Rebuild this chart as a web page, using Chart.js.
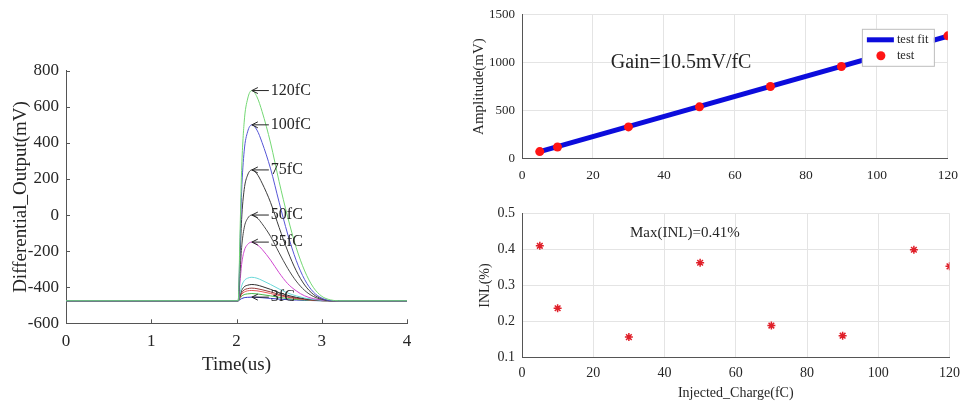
<!DOCTYPE html>
<html>
<head>
<meta charset="utf-8">
<script src="https://cdn.jsdelivr.net/npm/chart.js@4"></script>
<style>
  html, body { margin: 0; padding: 0; background: #fff; }
  body { width: 967px; height: 404px; position: relative; overflow: hidden; }
  canvas { position: absolute; }
  #pulse { left: 0; top: 0; }
  #gain { left: 460px; top: 0; }
  #inl { left: 460px; top: 195px; }
</style>
</head>
<body>
<canvas id="pulse" width="440" height="404"></canvas>
<canvas id="gain" width="507" height="195"></canvas>
<canvas id="inl" width="507" height="209"></canvas>
<script>
// shaper output, time axis in us, outputs in mV
var timeUs = [0, 2.02, 2.04, 2.06, 2.09, 2.13, 2.18, 2.24, 2.3, 2.4, 2.5, 2.6, 2.7, 2.8, 2.9, 3.0, 3.1, 3.2, 4.0];

var out120fC = [-475, -475, -125, 247, 515, 643, 690, 655, 574, 399, 185, -10, -180, -310, -400, -450, -470, -475, -475];
var out100fC = [-475, -475, -183, 129, 354, 461, 500, 471, 402, 256, 71, -105, -251, -358, -426, -460, -474, -475, -475];
var out75fC = [-475, -475, -258, -25, 141, 221, 250, 228, 177, 69, -69, -199, -308, -388, -439, -464, -475, -475, -475];
var out50fC = [-475, -475, -333, -181, -71, -19, 0, -14, -48, -119, -209, -295, -366, -418, -451, -468, -475, -475, -475];
var out35fC = [-475, -475, -378, -274, -199, -163, -150, -163, -190, -250, -320, -380, -420, -448, -463, -471, -475, -475, -475];
var out20fC = [-475, -475, -436, -394, -364, -350, -345, -350, -362, -385, -410, -432, -448, -460, -468, -473, -475, -475, -475];
var out15fC = [-475, -475, -448, -419, -398, -389, -385, -388, -396, -412, -430, -445, -456, -464, -470, -474, -475, -475, -475];
var out10fC = [-475, -475, -454, -432, -415, -408, -405, -408, -414, -426, -440, -452, -460, -467, -471, -474, -475, -475, -475];
var out8fC = [-475, -475, -458, -440, -427, -420, -418, -420, -425, -435, -446, -456, -463, -468, -472, -474, -475, -475, -475];
var out5fC = [-475, -475, -463, -450, -441, -437, -435, -437, -441, -448, -456, -463, -468, -471, -473, -475, -475, -475, -475];
var out3fC = [-475, -475, -469, -463, -458, -456, -455, -456, -458, -462, -466, -469, -471, -473, -474, -475, -475, -475, -475];

// amplitude and INL versus injected charge
var chargeFc = [5, 10, 30, 50, 70, 90, 110, 120];
var amplitudeMv = [70, 118, 328, 538, 750, 960, 1172, 1280];
var fitChargeFc = [5, 120];
var fitAmplitudeMv = [70, 1277.5];
var inlPercent = [0.41, 0.237, 0.157, 0.363, 0.189, 0.161, 0.399, 0.353];

Chart.defaults.font.family = '"Liberation Serif", "Times New Roman", serif';
Chart.defaults.color = '#262626';
Chart.defaults.animation = false;

function xy(xs, ys) {
  return xs.map(function (x, i) { return { x: x, y: ys[i] }; });
}

function plain(v) {
  return String(Math.round(v * 1000) / 1000);
}

function trace(name, values, color, tagged) {
  return {
    label: name,
    data: xy(timeUs, values),
    borderColor: color,
    borderWidth: 1,
    pointRadius: 0,
    cubicInterpolationMode: 'monotone',
    tag: tagged
  };
}

// arrows + charge labels at each tagged pulse peak
var pulseTags = {
  id: 'pulseTags',
  afterDatasetsDraw: function (chart) {
    var ctx = chart.ctx, sx = chart.scales.x, sy = chart.scales.y;
    ctx.save();
    ctx.strokeStyle = '#262626';
    ctx.fillStyle = '#262626';
    ctx.lineWidth = 1;
    ctx.font = '16px "Liberation Serif"';
    ctx.textBaseline = 'middle';
    chart.data.datasets.forEach(function (ds) {
      if (!ds.tag) return;
      var top = ds.data[0];
      ds.data.forEach(function (p) { if (p.y > top.y) top = p; });
      var px = sx.getPixelForValue(top.x), py = sy.getPixelForValue(top.y);
      ctx.beginPath();
      ctx.moveTo(px + 17, py);
      ctx.lineTo(px, py);
      ctx.moveTo(px + 6, py - 3);
      ctx.lineTo(px, py);
      ctx.lineTo(px + 6, py + 3);
      ctx.stroke();
      ctx.fillText(ds.label, px + 19, py);
    });
    ctx.restore();
  }
};

var inwardTicks = {
  id: 'inwardTicks',
  afterDraw: function (chart) {
    var ctx = chart.ctx, a = chart.chartArea, sx = chart.scales.x, sy = chart.scales.y;
    ctx.save();
    ctx.strokeStyle = '#555';
    ctx.lineWidth = 1;
    ctx.beginPath();
    sx.ticks.forEach(function (t) {
      var x = Math.round(sx.getPixelForValue(t.value)) + 0.5;
      ctx.moveTo(x, a.bottom);
      ctx.lineTo(x, a.bottom - 4);
    });
    sy.ticks.forEach(function (t) {
      var y = Math.round(sy.getPixelForValue(t.value)) + 0.5;
      ctx.moveTo(a.left, y);
      ctx.lineTo(a.left + 4, y);
    });
    ctx.stroke();
    ctx.restore();
  }
};

// free text placed in data coordinates
function noteText(id, text, x, y, size) {
  return {
    id: id,
    afterDatasetsDraw: function (chart) {
      var ctx = chart.ctx;
      ctx.save();
      ctx.fillStyle = '#262626';
      ctx.font = size + 'px "Liberation Serif"';
      ctx.textBaseline = 'middle';
      ctx.fillText(text, chart.scales.x.getPixelForValue(x), chart.scales.y.getPixelForValue(y));
      ctx.restore();
    }
  };
}

// opaque legend box inside the upper-right corner
var boxLegend = {
  id: 'boxLegend',
  afterDatasetsDraw: function (chart) {
    var ctx = chart.ctx, a = chart.chartArea;
    var dots = chart.data.datasets[0], fit = chart.data.datasets[1];
    var w = 72, h = 37, x = a.right - 14 - w, y = a.top + 14;
    ctx.save();
    ctx.fillStyle = '#fff';
    ctx.strokeStyle = '#bdbdbd';
    ctx.lineWidth = 1;
    ctx.fillRect(x, y, w, h);
    ctx.strokeRect(x + 0.5, y + 0.5, w, h);
    ctx.strokeStyle = fit.borderColor;
    ctx.lineWidth = fit.borderWidth;
    ctx.beginPath();
    ctx.moveTo(x + 5, y + 11);
    ctx.lineTo(x + 32, y + 11);
    ctx.stroke();
    ctx.fillStyle = dots.backgroundColor;
    ctx.beginPath();
    ctx.arc(x + 19, y + 27, dots.pointRadius, 0, Math.PI * 2);
    ctx.fill();
    ctx.fillStyle = '#262626';
    ctx.font = '12.5px "Liberation Serif"';
    ctx.textBaseline = 'middle';
    ctx.fillText(fit.label, x + 35, y + 11);
    ctx.fillText(dots.label, x + 35, y + 27);
    ctx.restore();
  }
};

new Chart(document.getElementById('pulse'), {
  type: 'line',
  data: {
    datasets: [
      trace('120fC', out120fC, '#74d874', true),
      trace('100fC', out100fC, '#5656d6', true),
      trace('75fC', out75fC, '#3c3c3c', true),
      trace('50fC', out50fC, '#4a4a4a', true),
      trace('35fC', out35fC, '#d048d0', true),
      trace('20fC', out20fC, '#6ad8d8', false),
      trace('15fC', out15fC, '#2e2e2e', false),
      trace('10fC', out10fC, '#9a3a3a', false),
      trace('8fC', out8fC, '#e85a5a', false),
      trace('5fC', out5fC, '#48b848', false),
      trace('3fC', out3fC, '#3434c4', true)
    ]
  },
  options: {
    responsive: false,
    layout: { padding: { left: 10, top: 70.7, right: 33, bottom: 27.8 } },
    plugins: { legend: { display: false }, tooltip: { enabled: false } },
    scales: {
      x: {
        type: 'linear', min: 0, max: 4,
        ticks: { stepSize: 1, padding: 8, font: { size: 17 }, callback: plain },
        grid: { display: false, drawTicks: false },
        border: { color: '#555' },
        title: { display: true, text: 'Time(us)', font: { size: 19 }, padding: 0 },
        afterFit: function (s) { s.height = 52.9; }
      },
      y: {
        min: -600, max: 800,
        ticks: { stepSize: 200, padding: 7, font: { size: 17 }, callback: plain },
        grid: { display: false, drawTicks: false },
        border: { color: '#555' },
        title: { display: true, text: 'Differential_Output(mV)', font: { size: 19 }, padding: 0 },
        afterFit: function (s) { s.width = 56; }
      }
    }
  },
  plugins: [pulseTags, inwardTicks]
});

var gridColor = '#e4e4e4';

new Chart(document.getElementById('gain'), {
  type: 'scatter',
  data: {
    datasets: [
      {
        label: 'test',
        data: xy(chargeFc, amplitudeMv),
        backgroundColor: '#ff1414',
        borderColor: '#ff1414',
        pointRadius: 4.5,
        pointBorderWidth: 0
      },
      {
        label: 'test fit',
        data: xy(fitChargeFc, fitAmplitudeMv),
        showLine: true,
        borderColor: '#0c0cdc',
        borderWidth: 5,
        pointRadius: 0
      }
    ]
  },
  options: {
    responsive: false,
    layout: { padding: { left: 9.6, top: 14, right: 10, bottom: 6.7 } },
    plugins: { legend: { display: false }, tooltip: { enabled: false } },
    scales: {
      x: {
        type: 'linear', min: 0, max: 120,
        ticks: { stepSize: 20, padding: 9, font: { size: 13.5 }, callback: plain },
        grid: { color: gridColor, drawTicks: false },
        border: { color: '#555' },
        afterFit: function (s) { s.height = 30; }
      },
      y: {
        min: 0, max: 1500,
        ticks: { stepSize: 500, padding: 7, font: { size: 13 }, callback: plain },
        grid: { color: gridColor, drawTicks: false },
        border: { color: '#555' },
        title: { display: true, text: 'Amplitude(mV)', font: { size: 15 }, padding: 0 },
        afterFit: function (s) { s.width = 52.4; }
      }
    }
  },
  plugins: [noteText('gainNote', 'Gain=10.5mV/fC', 25, 1000, 20), boxLegend]
});

new Chart(document.getElementById('inl'), {
  type: 'scatter',
  data: {
    datasets: [
      {
        label: 'INL',
        data: xy(chargeFc, inlPercent),
        pointStyle: 'star',
        pointRadius: 4,
        borderColor: '#e0202a',
        pointBorderWidth: 1.5
      }
    ]
  },
  options: {
    responsive: false,
    layout: { padding: { left: 16.6, top: 18.3, right: 10, bottom: 2.3 } },
    plugins: { legend: { display: false }, tooltip: { enabled: false } },
    scales: {
      x: {
        type: 'linear', min: 0, max: 120,
        ticks: { stepSize: 20, padding: 7, font: { size: 14 }, callback: plain },
        grid: { color: gridColor, drawTicks: false },
        border: { color: '#555' },
        title: { display: true, text: 'Injected_Charge(fC)', font: { size: 14 }, padding: 0 },
        afterFit: function (s) { s.height = 44; }
      },
      y: {
        min: 0.1, max: 0.5,
        ticks: { stepSize: 0.1, padding: 7, font: { size: 14 }, callback: plain },
        grid: { color: gridColor, drawTicks: false },
        border: { color: '#555' },
        title: { display: true, text: 'INL(%)', font: { size: 14 }, padding: 0 },
        afterFit: function (s) { s.width = 45.4; }
      }
    }
  },
  plugins: [noteText('inlNote', 'Max(INL)=0.41%', 30.3, 0.445, 15)]
});
</script>
</body>
</html>
